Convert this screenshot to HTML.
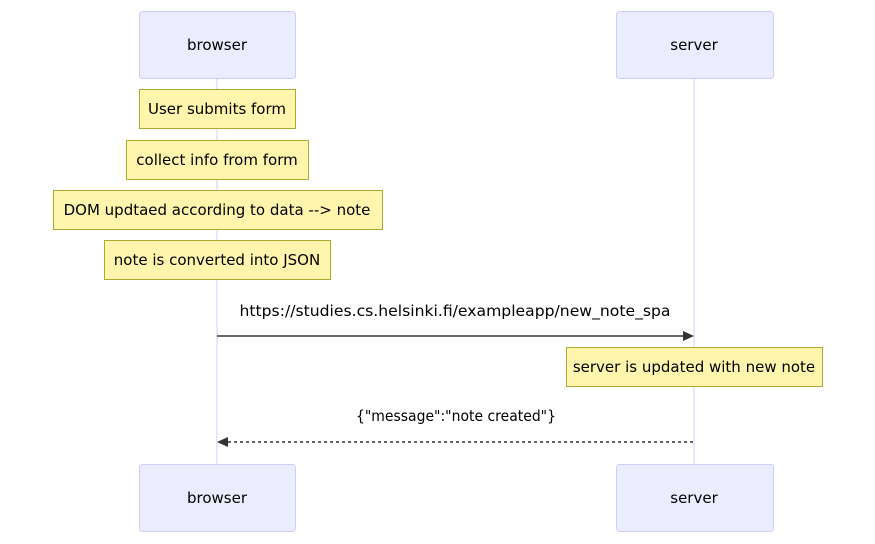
<!DOCTYPE html>
<html><head><meta charset="utf-8"><style>
html,body{margin:0;padding:0;background:#fff;}
svg{display:block;}
text{font-family:"DejaVu Sans","Liberation Sans",sans-serif;font-size:15px;fill:#000;}
</style></head><body>
<svg width="875" height="544" viewBox="0 0 875 544" xmlns="http://www.w3.org/2000/svg">
<line x1="217" y1="78" x2="217" y2="464" stroke="#ccccff" stroke-width="1"/>
<line x1="694" y1="78" x2="694" y2="464" stroke="#ccccff" stroke-width="1"/>
<g fill="#ececff" stroke="#ccccff" stroke-width="1">
<rect x="139.5" y="11.5" width="156" height="67" rx="3"/>
<rect x="616.5" y="11.5" width="157" height="67" rx="3"/>
<rect x="139.5" y="464.5" width="156" height="67" rx="3"/>
<rect x="616.5" y="464.5" width="157" height="67" rx="3"/>
</g>
<g text-anchor="middle" dominant-baseline="central">
<text x="217" y="45">browser</text>
<text x="694" y="45">server</text>
<text x="217" y="498">browser</text>
<text x="694" y="498">server</text>
</g>
<g fill="#fff5ad" stroke="#aaaa33" stroke-width="1">
<rect x="139.5" y="89.5" width="156" height="39"/>
<rect x="126.5" y="140.5" width="182" height="39"/>
<rect x="53.5" y="190.5" width="329" height="39"/>
<rect x="104.5" y="240.5" width="226" height="39"/>
<rect x="566.5" y="347.5" width="256" height="39"/>
</g>
<g text-anchor="middle" dominant-baseline="central">
<text x="217" y="109">User submits form</text>
<text x="217" y="160">collect info from form</text>
<text x="217" y="210">DOM updtaed according to data --&gt; note</text>
<text x="217" y="260">note is converted into JSON</text>
<text x="694" y="367">server is updated with new note</text>
<text x="455" y="311" fill="#333" textLength="431" lengthAdjust="spacingAndGlyphs">https://studies.cs.helsinki.fi/exampleapp/new_note_spa</text>
<text x="456" y="416" fill="#333" textLength="200" lengthAdjust="spacingAndGlyphs">{"message":"note created"}</text>
</g>
<line x1="217" y1="336" x2="684" y2="336" stroke="#333" stroke-width="1.5"/>
<polygon points="694,336 683,331 683,341" fill="#333"/>
<line x1="228" y1="442" x2="694" y2="442" stroke="#333" stroke-width="1.5" stroke-dasharray="3,3"/>
<polygon points="217,442 228,437 228,447" fill="#333"/>
</svg>
</body></html>
